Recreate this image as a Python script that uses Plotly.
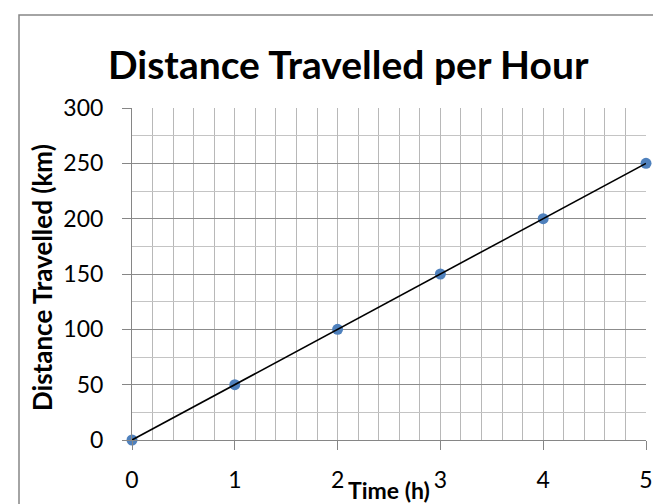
import plotly.graph_objects as go

time_h = [0, 1, 2, 3, 4, 5]
distance_km = [0, 50, 100, 150, 200, 250]
x_ticks = [0, 1, 2, 3, 4, 5]
y_ticks = [0, 50, 100, 150, 200, 250, 300]

W, H = 661, 504
L, R, T, B = 124, 23, 100, 72
pw, ph = W - L - R, H - T - B

def px_x(p):
    return (p - L) / pw

def px_y(p):
    return (H - B - p) / ph

FONT = "Lato"

fig = go.Figure()
fig.add_trace(go.Scatter(
    x=time_h, y=distance_km, mode="markers",
    marker=dict(color="#4f81bd", size=11),
    cliponaxis=False, showlegend=False))
fig.add_trace(go.Scatter(
    x=time_h, y=distance_km, mode="lines",
    line=dict(color="black", width=1.6),
    cliponaxis=False, showlegend=False))

fig.update_layout(
    width=W, height=H,
    margin=dict(l=L, r=R, t=T, b=B),
    paper_bgcolor="white", plot_bgcolor="white",
    font=dict(family=FONT, color="black"),
    xaxis=dict(range=[0, 5], tickvals=x_ticks, ticktext=[str(v) for v in x_ticks],
               showgrid=True, gridcolor="#b8b8b8", gridwidth=1,
               minor=dict(dtick=0.2, showgrid=True, gridcolor="#b8b8b8", gridwidth=1, ticks=""),
               showline=True, linecolor="#868686", linewidth=1,
               ticks="outside", ticklen=9, tickcolor="#868686",
               ticklabelstandoff=10,
               tickfont=dict(size=23, family=FONT), zeroline=False),
    yaxis=dict(range=[0, 300], tickvals=y_ticks, ticktext=[str(v) for v in y_ticks],
               showgrid=True, gridcolor="#8c8c8c", gridwidth=1,
               minor=dict(dtick=25, showgrid=True, gridcolor="#c4c4c4", gridwidth=1, ticks=""),
               showline=True, linecolor="#868686", linewidth=1,
               ticks="outside", ticklen=9, tickcolor="#868686",
               ticklabelstandoff=14,
               tickfont=dict(size=23, family=FONT), zeroline=False),
    shapes=[dict(type="rect", xref="paper", yref="paper",
                 x0=px_x(11), x1=1.2, y0=-0.4, y1=px_y(7),
                 line=dict(color="#868686", width=1.5), fillcolor="rgba(0,0,0,0)",
                 layer="below")],
    annotations=[
        dict(text="<b>Distance Travelled per Hour</b>", xref="paper", yref="paper",
             x=px_x(340), y=px_y(56), xanchor="center", yanchor="middle",
             showarrow=False, font=dict(size=39, family=FONT)),
        dict(text="<b>Distance Travelled (km)</b>", xref="paper", yref="paper",
             x=px_x(34), y=px_y(270), xanchor="center", yanchor="middle",
             textangle=-90, showarrow=False, font=dict(size=26, family=FONT)),
        dict(text="<b>Time (h)</b>", xref="paper", yref="paper",
             x=px_x(381), y=px_y(482), xanchor="center", yanchor="middle",
             showarrow=False, font=dict(size=23, family=FONT)),
    ],
)

fig.write_html("out.html")
